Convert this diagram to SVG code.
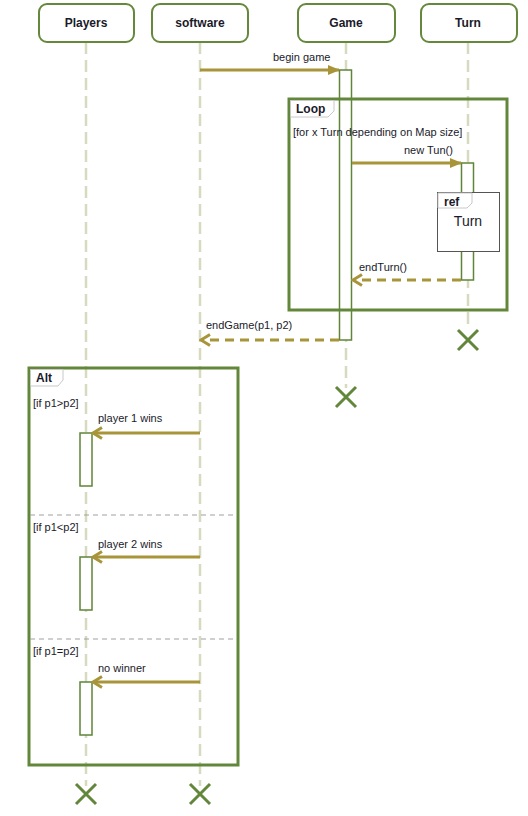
<svg xmlns="http://www.w3.org/2000/svg" width="528" height="816" viewBox="0 0 528 816">
  <defs>
    <style>
      text { font-family: "Liberation Sans", Arial, sans-serif; font-size: 11px; fill: #1a1a2a; }
      .head { fill: #ffffff; stroke: #66883c; stroke-width: 2; }
      .headtxt { font-weight: bold; font-size: 12px; text-anchor: middle; }
      .life { stroke: #d7dabf; stroke-width: 2.5; stroke-dasharray: 12 6; fill: none; }
      .frame { fill: none; stroke: #62873a; stroke-width: 3; }
      .tab { fill: #ffffff; stroke: #c8c8c8; stroke-width: 1; }
      .tabtxt { font-weight: bold; font-size: 12px; }
      .reftxt { font-size: 14px; text-anchor: middle; }
      .act { fill: #ffffff; stroke: #5e8538; stroke-width: 1.5; }
      .msg { stroke: #a8953a; stroke-width: 3; fill: none; }
      .ret { stroke: #a8953a; stroke-width: 3; fill: none; stroke-dasharray: 9 6; }
      .sep { stroke: #a0a0a0; stroke-width: 1; stroke-dasharray: 5 4; }
      .kill { stroke: #62873a; stroke-width: 3; fill: none; }
    </style>
    <marker id="solid" markerWidth="12" markerHeight="12" refX="11" refY="6" orient="auto" markerUnits="userSpaceOnUse">
      <path d="M0,1 L12,6 L0,11 Z" fill="#a8953a"/>
    </marker>
    <marker id="open" markerWidth="14" markerHeight="14" refX="12" refY="7" orient="auto" markerUnits="userSpaceOnUse">
      <path d="M3,1.5 L12,7 L3,12.5" fill="none" stroke="#a8953a" stroke-width="3"/>
    </marker>
  </defs>

  <!-- lifelines -->
  <g id="lifelines">
    <line class="life" x1="86" y1="42" x2="86" y2="786"/>
    <line class="life" x1="200" y1="42" x2="200" y2="786"/>
    <line class="life" x1="346" y1="42" x2="346" y2="388"/>
    <line class="life" x1="468" y1="42" x2="468" y2="330"/>
  </g>

  <!-- participants -->
  <g id="players">
    <rect class="head" x="39" y="4" width="95" height="38" rx="8"/>
    <text class="headtxt" x="86" y="27">Players</text>
  </g>
  <g id="software">
    <rect class="head" x="152" y="4" width="96" height="38" rx="8"/>
    <text class="headtxt" x="200" y="27">software</text>
  </g>
  <g id="game">
    <rect class="head" x="298" y="4" width="97" height="38" rx="8"/>
    <text class="headtxt" x="346" y="27">Game</text>
  </g>
  <g id="turn">
    <rect class="head" x="421" y="4" width="96" height="38" rx="8"/>
    <text class="headtxt" x="468" y="27">Turn</text>
  </g>

  <!-- activations -->
  <g id="activations">
    <rect class="act" x="339.5" y="70" width="12" height="270"/>
    <rect class="act" x="461.5" y="163" width="12" height="117"/>
    <rect class="act" x="80" y="433" width="12" height="53"/>
    <rect class="act" x="80" y="557" width="12" height="53"/>
    <rect class="act" x="80" y="682" width="12" height="53"/>
  </g>

  <!-- loop fragment -->
  <g id="loop">
    <rect class="frame" x="289" y="99" width="218" height="211"/>
    <path class="tab" d="M290.5,100.5 H334 V111 L328,117 H290.5 Z"/>
    <text class="tabtxt" x="296" y="113">Loop</text>
    <text x="293" y="136">[for x Turn depending on Map size]</text>
  </g>

  <!-- alt fragment -->
  <g id="alt">
    <rect class="frame" x="29" y="368" width="209" height="397"/>
    <path class="tab" d="M30.5,369.5 H63 V380 L58,386 H30.5 Z"/>
    <text class="tabtxt" x="36" y="382">Alt</text>
    <line class="sep" x1="30" y1="515" x2="237" y2="515"/>
    <line class="sep" x1="30" y1="639" x2="237" y2="639"/>
    <text x="33" y="407">[if p1&gt;p2]</text>
    <text x="33" y="531">[if p1&lt;p2]</text>
    <text x="33" y="655">[if p1=p2]</text>
  </g>

  <!-- ref fragment -->
  <g id="ref-turn">
    <rect x="437.5" y="192.5" width="62" height="59" fill="#ffffff" stroke="#555555" stroke-width="1"/>
    <path class="tab" d="M438,193 H472 V203 L467,208 H438 Z"/>
    <text class="tabtxt" x="444" y="206">ref</text>
    <text class="reftxt" x="468" y="226">Turn</text>
  </g>

  <!-- messages -->
  <g id="connectors">
    <line class="msg" x1="200" y1="70" x2="339" y2="70" marker-end="url(#solid)"/>
    <text x="273" y="61">begin game</text>

    <line class="msg" x1="352" y1="163" x2="461" y2="163" marker-end="url(#solid)"/>
    <text x="404" y="154">new Tun()</text>

    <line class="ret" x1="461" y1="280" x2="353" y2="280" marker-end="url(#open)"/>
    <text x="359" y="271">endTurn()</text>

    <line class="ret" x1="339" y1="340" x2="201" y2="340" marker-end="url(#open)"/>
    <text x="206" y="329">endGame(p1, p2)</text>

    <line class="msg" x1="200" y1="433" x2="93" y2="433" marker-end="url(#open)"/>
    <text x="98" y="422">player 1 wins</text>

    <line class="msg" x1="200" y1="557" x2="93" y2="557" marker-end="url(#open)"/>
    <text x="98" y="548">player 2 wins</text>

    <line class="msg" x1="200" y1="682" x2="93" y2="682" marker-end="url(#open)"/>
    <text x="98" y="672">no winner</text>
  </g>

  <!-- destruction marks -->
  <g id="destroy">
    <path class="kill" d="M458,330 L478,350 M478,330 L458,350"/>
    <path class="kill" d="M336,387 L356,407 M356,387 L336,407"/>
    <path class="kill" d="M76,784 L96,804 M96,784 L76,804"/>
    <path class="kill" d="M190,784 L210,804 M210,784 L190,804"/>
  </g>
</svg>
